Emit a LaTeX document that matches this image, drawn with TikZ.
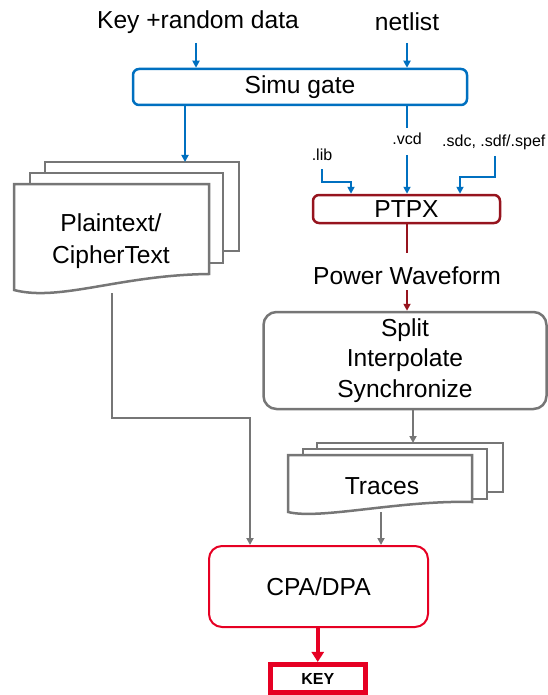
\documentclass[tikz,border=0pt]{standalone}
\usepackage{fontspec}
\setmainfont{Liberation Sans}
\usetikzlibrary{arrows.meta}
\definecolor{myblue}{RGB}{0,112,192}
\definecolor{mymaroon}{RGB}{150,20,30}
\definecolor{myred}{RGB}{230,0,35}
\definecolor{mygray}{RGB}{118,118,118}
\tikzset{
  lbl/.style={font=\fontsize{24.6}{31}\selectfont, inner sep=0pt, align=center},
  small/.style={font=\fontsize{16}{19}\selectfont, inner sep=0pt},
  bluebox/.style={draw=myblue, line width=2.5pt, rounded corners=6pt, inner sep=0pt},
  ptpxbox/.style={draw=mymaroon, line width=2.5pt, rounded corners=6pt, inner sep=0pt},
  graybox/.style={draw=mygray, line width=2.5pt, rounded corners=13pt, inner sep=0pt, align=center},
  redbox/.style={draw=myred, line width=2pt, rounded corners=13pt, inner sep=0pt},
  keybox/.style={draw=myred, line width=5pt, inner sep=0pt},
  page/.style={draw=mygray, line width=2.5pt, fill=white, line join=miter},
  barrow/.style={draw=myblue, line width=2pt, -{Triangle[length=7pt,width=7pt]}},
  bline/.style={draw=myblue, line width=2pt},
  marrow/.style={draw=mymaroon, line width=2pt, -{Triangle[length=7pt,width=7pt]}},
  mline/.style={draw=mymaroon, line width=2pt},
  garrow/.style={draw=mygray, line width=2pt, -{Triangle[length=7pt,width=7pt]}},
  rarrow/.style={draw=myred, line width=4pt, -{Triangle[length=10pt,width=12pt]}},
}
\begin{document}
\begin{tikzpicture}[x=1pt,y=-1pt]
\useasboundingbox (0,0) rectangle (547,695);

% top inputs
\node[lbl] (key) at (198,22) {Key +random data};
\node[lbl] (net) at (407,22) {netlist};
\node[bluebox, minimum width=334pt, minimum height=36pt, font=\fontsize{24.6}{31}\selectfont] (simu) at (300,87) {Simu gate};
\coordinate (k1) at (196,43);
\coordinate (n1) at (407,43);
\draw[barrow] (k1) -- (k1 |- simu.north);
\draw[barrow] (n1) -- (n1 |- simu.north);

% plaintext documents
\draw[page] (45,162) rectangle (239,251);
\draw[page] (30,173) rectangle (223,263);
\draw[page] (14,184) -- (209,184) -- (209,274) .. controls (120,275) and (60,302) .. (14,290) -- cycle;
\node[lbl, font=\fontsize{24.6}{32}\selectfont] (plain) at (111,241) {Plaintext/\\CipherText};
\coordinate (docA) at (185,162);
\draw[barrow] (simu.south -| docA) -- (docA);

% PTPX inputs
\node[small] (vcd) at (407,139) {.vcd};
\node[small] (lib) at (322,155) {.lib};
\node[small, anchor=west] (sdc) at (442,142) {.sdc, .sdf/.spef};
\node[ptpxbox, minimum width=187pt, minimum height=28pt, font=\fontsize{24.6}{31}\selectfont] (ptpx) at (406.5,209) {PTPX};
\coordinate (v0) at (407,128);
\coordinate (v1) at (407,155);
\draw[bline] (simu.south -| v0) -- (v0);
\draw[barrow] (v1) -- (v1 |- ptpx.north);
\coordinate (l1) at (322,169);
\coordinate (l2) at (351,182);
\draw[barrow] (l1) |- (l2) -- (l2 |- ptpx.north);
\coordinate (s1) at (495,156);
\coordinate (s2) at (460,177);
\draw[barrow] (s1) |- (s2) -- (s2 |- ptpx.north);

% power waveform
\node[lbl] (pw) at (407,276) {Power Waveform};
\coordinate (p1) at (407,253);
\coordinate (p2) at (407,290);
\draw[mline] (ptpx.south -| p1) -- (p1);
\node[graybox, minimum width=283pt, minimum height=97pt, font=\fontsize{24.6}{30.5}\selectfont] (split) at (405,360.5) {Split\\Interpolate\\Synchronize};
\draw[marrow] (p2) -- (p2 |- split.north);

% traces documents
\draw[page] (317,443) rectangle (503,492);
\draw[page] (303,449) rectangle (487,499);
\draw[page] (288,455) -- (472,455) -- (472,502) .. controls (400,500) and (320,520) .. (288,512) -- cycle;
\node[lbl] (traces) at (382,486) {Traces};
\coordinate (tA) at (413,443);
\draw[garrow] (split.south -| tA) -- (tA);

% CPA/DPA
\node[redbox, minimum width=219pt, minimum height=81pt, font=\fontsize{24.6}{31}\selectfont] (cpa) at (318.5,586.5) {CPA/DPA};
\coordinate (tB) at (381,512);
\draw[garrow] (tB) -- (tB |- cpa.north);
\coordinate (pA) at (112,293);
\coordinate (pB) at (250,418);
\draw[garrow] (pA) |- (pB) -- (pB |- cpa.north);

% KEY
\node[keybox, minimum width=95.5pt, minimum height=28.5pt, font=\fontsize{16}{19}\selectfont\bfseries] (keyout) at (317.75,678.7) {KEY};
\draw[rarrow] (cpa.south -| keyout) -- (keyout.north);
\end{tikzpicture}
\end{document}
